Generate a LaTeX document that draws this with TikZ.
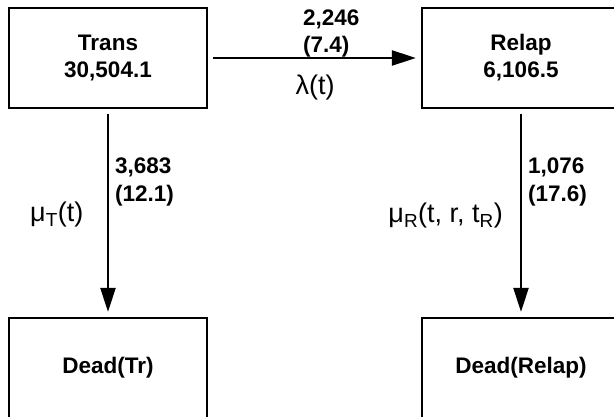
\documentclass[tikz,border=0pt]{standalone}
\usepackage{fontspec}
\setmainfont{Liberation Sans}
\usetikzlibrary{arrows.meta}
\begin{document}
\begin{tikzpicture}[x=1pt,y=-1pt,
  box/.style={draw,line width=2.2pt,minimum width=198pt,minimum height=100pt,inner sep=0pt,
    font=\fontsize{22.5}{27}\selectfont\bfseries,align=center},
  flow/.style={line width=2.2pt,-{Triangle[length=24pt,width=15pt]},shorten <=5pt,shorten >=5pt},
  num/.style={font=\fontsize{22.5}{27}\selectfont\bfseries,inner sep=0pt},
  rate/.style={font=\fontsize{27}{30}\selectfont,inner sep=0pt}]
\useasboundingbox (0,0) rectangle (614,417);
\clip (0,0) rectangle (614,417);
\node[box] (trans) at (108,58) {Trans\\30,504.1};
\node[box] (relap) at (521,58) {Relap\\6,106.5};
\node[box] (deadtr) at (108,368) {Dead(Tr)};
\node[box] (deadrel) at (521,368) {Dead(Relap)};
\draw[flow] (trans.east) -- (relap.west);
\draw[flow] (trans.south) -- (deadtr.north);
\draw[flow] (relap.south) -- (deadrel.north);
\node[num,anchor=base west] (n1a) at (303,26) {2,246};
\node[num,anchor=base west] (n1b) at (303,53) {(7.4)};
\node[num,anchor=base west] (n2a) at (115,174) {3,683};
\node[num,anchor=base west] (n2b) at (115,202) {(12.1)};
\node[num,anchor=base west] (n3a) at (528,174) {1,076};
\node[num,anchor=base west] (n3b) at (528,202) {(17.6)};
\node[rate,anchor=base] (lam) at (315,94.5) {λ(t)};
\node[rate,anchor=base west] (muT) at (30,222) {μ\textsubscript{T}(t)};
\node[rate,anchor=base east] (muR) at (503,223) {μ\textsubscript{R}(t, r, t\textsubscript{R})};
\end{tikzpicture}
\end{document}
